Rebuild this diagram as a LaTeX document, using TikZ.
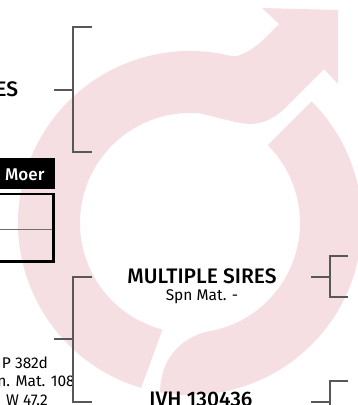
\documentclass[tikz,border=0pt]{standalone}
\usepackage{fontspec}
\setmainfont{Fira Sans}[BoldFont={Fira Sans Medium}]
\definecolor{pinkbg}{RGB}{246,223,226}
\definecolor{brkcol}{RGB}{88,88,88}
\definecolor{rulegray}{RGB}{110,110,110}
\tikzset{
  namestyle/.style={inner sep=0pt, font=\bfseries\fontsize{21}{25}\selectfont},
  infostyle/.style={inner sep=0pt, font=\fontsize{15.5}{18}\selectfont},
  moerstyle/.style={inner sep=0pt, text=white, font=\bfseries\fontsize{17}{20}\selectfont},
  brk/.style={draw=brkcol, line width=1.4pt},
}
\begin{document}
\begin{tikzpicture}[x=1pt,y=-1pt]
\useasboundingbox (0,0) rectangle (358,405);
% background logo
\fill[pinkbg] (190,223) ++(104.5:110) arc[start angle=104.5, end angle=275.2, radius=110]
  .. controls (240,122) and (255,133) .. (282,111) -- (324,69) -- (338,84) -- (338,10)
  -- (262,8) -- (279,24) -- (262,41)
  .. controls (256,47) and (239.4,58.1) .. (231.6,56.1)
  arc[start angle=284, end angle=106.5, radius=172] -- cycle;
\fill[pinkbg] (190,223) ++(-45:172) arc[start angle=-45, end angle=100, radius=172]
  .. controls (160,360) and (180,338) .. (207.2,331.6)
  arc[start angle=81, end angle=-45, radius=110] -- cycle;
% Moer table
\fill[black] (-2,158.3) rectangle (55,189.3);
\node[moerstyle, anchor=base west] (moer) at (5,180) {Moer};
\draw[line width=2pt] (-2,194.3) -- (54,194.3);
\draw[line width=3.3pt] (53.4,193.3) -- (53.4,262.7);
\draw[line width=2.7pt] (-2,261.3) -- (55,261.3);
\draw[rulegray, line width=1pt] (-2,229.3) -- (52,229.3);
% texts
\node[namestyle, anchor=base east] (es) at (18.3,96.7) {ES};
\node[namestyle, anchor=base] (ms) at (202,283.5) {MULTIPLE SIRES};
\node[infostyle, anchor=base] (spn) at (202,300.5) {Spn Mat. -};
\node[namestyle, anchor=base] (ivh) at (201,406.5) {IVH 130436};
\node[infostyle, anchor=base east] (l1) at (48,368) {P 382d};
\node[infostyle, anchor=base east] (l2) at (75,386.7) {n. Mat. 108};
\node[infostyle, anchor=base east] (l3) at (48,405.5) {W 47.2};
% brackets
\coordinate (a1) at (92,27); \coordinate (a2) at (73,27);
\coordinate (a3) at (73,152); \coordinate (a4) at (92,152);
\coordinate (am) at (73,90); \coordinate (al) at (54,90);
\draw[brk] (a1) -- (a2) -- (a3) -- (a4);
\draw[brk] (al) -- (am);
\coordinate (b1) at (92,277); \coordinate (b2) at (73,277);
\coordinate (b3) at (73,402); \coordinate (b4) at (92,402);
\coordinate (bm) at (73,339); \coordinate (bl) at (54,339);
\draw[brk] (b1) -- (b2) -- (b3) -- (b4);
\draw[brk] (bl) -- (bm);
\coordinate (c1) at (348,256); \coordinate (c2) at (330,256);
\coordinate (c3) at (330,297); \coordinate (c4) at (348,297);
\coordinate (cm) at (330,277); \coordinate (cl) at (311,277);
\draw[brk] (c1) -- (c2) -- (c3) -- (c4);
\draw[brk] (cl) -- (cm);
\coordinate (d1) at (348,381); \coordinate (d2) at (330,381);
\coordinate (d3) at (330,423);
\coordinate (dm) at (330,402); \coordinate (dl) at (311,402);
\draw[brk] (d1) -- (d2) -- (d3);
\draw[brk] (dl) -- (dm);
\end{tikzpicture}
\end{document}
